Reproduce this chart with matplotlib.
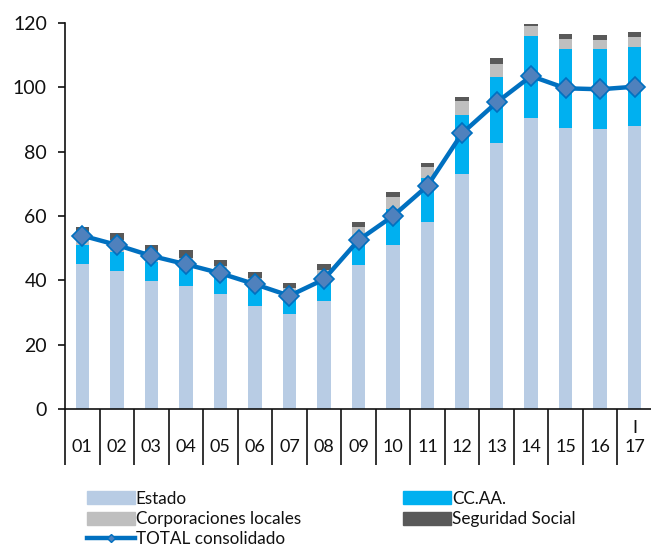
import matplotlib
matplotlib.use("Agg")
import matplotlib.pyplot as plt
from matplotlib.patches import Patch
from matplotlib.lines import Line2D
import numpy as np

categories = ["01", "02", "03", "04", "05", "06", "07", "08", "09", "10",
              "11", "12", "13", "14", "15", "16", "I\n17"]
estado = [45.0, 42.9, 39.8, 38.2, 35.6, 32.0, 29.5, 33.6, 44.8, 51.0,
          58.2, 73.0, 82.8, 90.6, 87.4, 87.0, 88.0]
ccaa = [6.0, 6.0, 6.0, 5.5, 5.5, 6.5, 6.5, 6.0, 8.8, 11.2,
        13.7, 18.4, 20.5, 25.4, 24.6, 24.9, 24.5]
corp_locales = [4.0, 3.6, 3.1, 3.3, 3.4, 2.3, 1.7, 3.6, 3.1, 3.6,
                3.2, 4.2, 4.1, 3.2, 3.1, 2.8, 3.1]
seg_social = [1.7, 2.1, 2.1, 2.4, 1.8, 1.9, 1.6, 1.8, 1.4, 1.6,
              1.5, 1.5, 1.6, 0.5, 1.6, 1.6, 1.6]
total = [53.9, 51.0, 47.6, 45.0, 42.2, 38.8, 35.2, 40.3, 52.5, 60.0,
         69.4, 85.7, 95.3, 103.5, 99.7, 99.4, 100.2]

c_estado = "#B8CCE4"
c_ccaa = "#00B0F0"
c_corp = "#BFBFBF"
c_ss = "#595959"
c_line = "#0070C0"
c_marker = "#4F81BD"
c_text = "#111111"

plt.rcParams['font.family'] = ['Lato', 'DejaVu Sans']
plt.rcParams['text.color'] = c_text
plt.rcParams['xtick.color'] = c_text
plt.rcParams['ytick.color'] = c_text

fig = plt.figure(figsize=(6.51, 5.49), dpi=100)
ax = fig.add_axes([65/651, (549-409)/549, 587/651, (409-23)/549])

x = np.arange(len(categories))
w = 0.39
e = np.array(estado); c = np.array(ccaa); cl = np.array(corp_locales); s = np.array(seg_social)
ax.bar(x, e, w, color=c_estado, zorder=2)
ax.bar(x, c, w, bottom=e, color=c_ccaa, zorder=2)
ax.bar(x, cl, w, bottom=e + c, color=c_corp, zorder=2)
ax.bar(x, s, w, bottom=e + c + cl, color=c_ss, zorder=2)
ax.plot(x, total, color=c_line, lw=3.2, marker='D', markersize=10,
        markerfacecolor=c_marker, markeredgecolor=c_line, markeredgewidth=1.2, zorder=3)

ax.set_xlim(-0.5, len(categories) - 0.5)
ax.set_ylim(0, 120)
ax.set_yticks(np.arange(0, 121, 20))
ax.tick_params(axis='y', direction='out', length=5, width=1.2, labelsize=14, pad=8)
ax.set_xticks(x)
ax.set_xticklabels(["\n" + t if "\n" not in t else t for t in categories], fontsize=13)
ax.tick_params(axis='x', which='major', length=0, pad=8)
ax.set_xticks(np.arange(-0.5, len(categories), 1.0), minor=True)
ax.tick_params(axis='x', which='minor', direction='out', length=40, width=1.2)
for sp in ['top', 'right']:
    ax.spines[sp].set_visible(False)
ax.spines['left'].set_linewidth(1.2)
ax.spines['bottom'].set_linewidth(1.2)
ax.spines['left'].set_color(c_text)
ax.spines['bottom'].set_color(c_text)

handles = [Patch(color=c_estado, label='Estado'),
           Patch(color=c_corp, label='Corporaciones locales'),
           Line2D([], [], color=c_line, lw=3.2, marker='D', markersize=4,
                  markerfacecolor=c_marker, label='TOTAL consolidado'),
           Patch(color=c_ccaa, label='CC.AA.'),
           Patch(color=c_ss, label='Seguridad Social')]
fig.legend(handles=handles, ncol=2, loc='upper left', bbox_to_anchor=(80/651, 1 - 484/549),
           frameon=False, fontsize=12.3, handlelength=2.8, handleheight=0.8,
           handletextpad=0.05, columnspacing=6.0, labelspacing=0.25, borderaxespad=0)

fig.savefig("out.png", dpi=100)
